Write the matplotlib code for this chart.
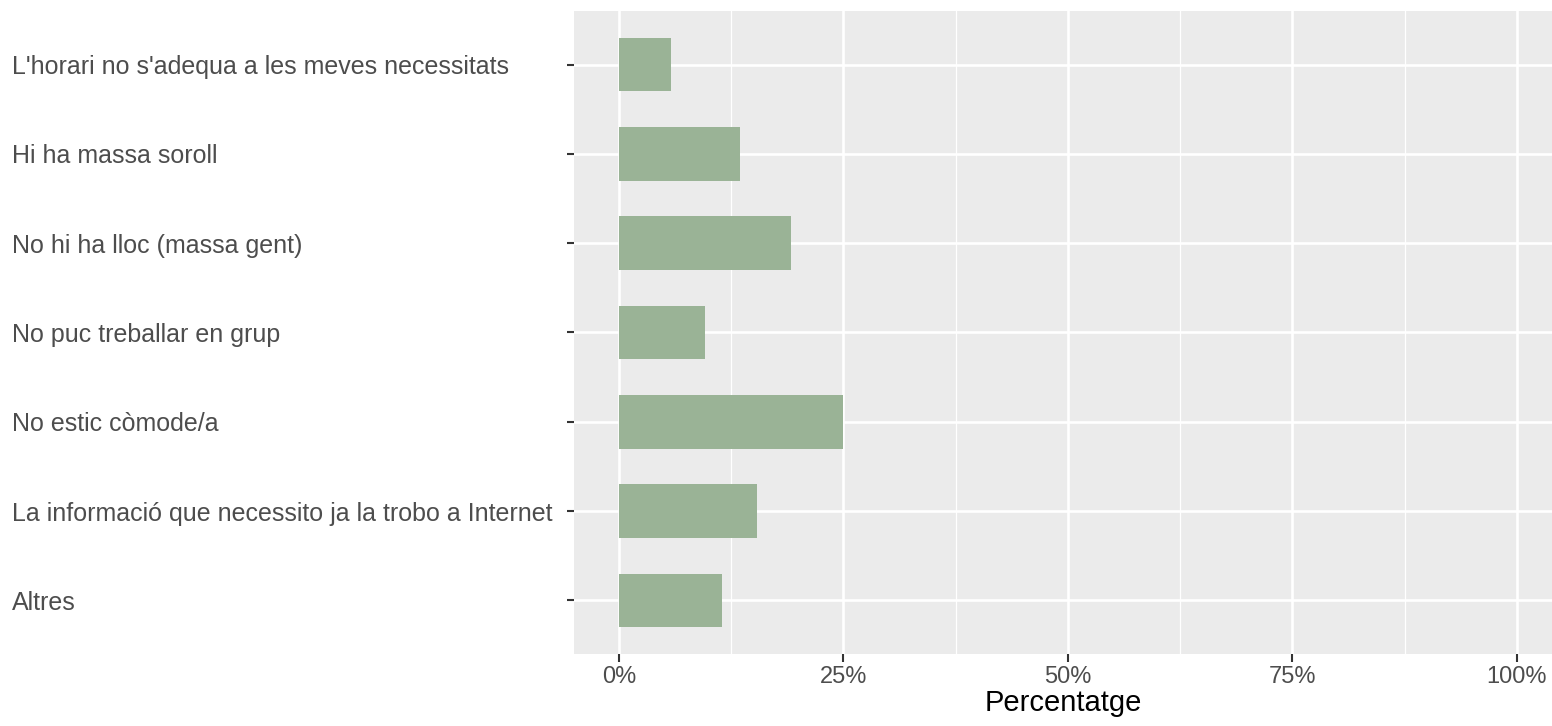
import matplotlib.pyplot as plt
import numpy as np
from matplotlib.ticker import FixedLocator

# answers, top to bottom as drawn
motius = ["L'horari no s'adequa a les meves necessitats",
          "Hi ha massa soroll",
          "No hi ha lloc (massa gent)",
          "No puc treballar en grup",
          "No estic còmode/a",
          "La informació que necessito ja la trobo a Internet",
          "Altres"]
percentatge = [5.8, 13.5, 19.2, 9.6, 25.0, 15.4, 11.5]

x_ticks = [0, 25, 50, 75, 100]
x_tick_labels = ["0%", "25%", "50%", "75%", "100%"]

W, H, DPI = 1552, 726, 100
plt.rcParams['font.family'] = ['Liberation Sans', 'DejaVu Sans']

fig = plt.figure(figsize=(W / DPI, H / DPI), dpi=DPI)
ax = fig.add_axes([574 / W, 72 / H, 978 / W, 643 / H])
ax.set_facecolor('#EBEBEB')

pos = np.arange(len(motius))[::-1] + 1
ax.barh(pos, percentatge, height=0.6, color='#9AB396', zorder=3)

ax.set_xlim(-5, 103.9)
ax.set_ylim(0.4, len(motius) + 0.6)

# ggplot like grid
ax.set_xticks(x_ticks)
ax.set_xticklabels(x_tick_labels)
ax.xaxis.set_minor_locator(FixedLocator([12.5, 37.5, 62.5, 87.5]))
ax.set_yticks(pos)
ax.set_yticklabels(motius)
ax.grid(True, which='major', color='white', linewidth=1.9, zorder=1)
ax.grid(True, which='minor', axis='x', color='white', linewidth=0.9, zorder=1)
ax.set_axisbelow(True)
for s in ax.spines.values():
    s.set_visible(False)

ax.tick_params(axis='both', which='major', length=5.4, width=1.5, color='#333333',
               labelcolor='#4D4D4D')
ax.tick_params(axis='x', which='minor', length=0)
ax.tick_params(axis='x', pad=3, labelsize=17)
# left aligned labels starting at ~12px from the figure edge
ax.tick_params(axis='y', labelsize=18, pad=(574 - 7.5 - 12) * 72 / DPI)
for lab in ax.get_yticklabels():
    lab.set_horizontalalignment('left')

ax.set_xlabel("Percentatge", fontsize=21, color='black', labelpad=1)

fig.savefig('out.png', dpi=DPI)
